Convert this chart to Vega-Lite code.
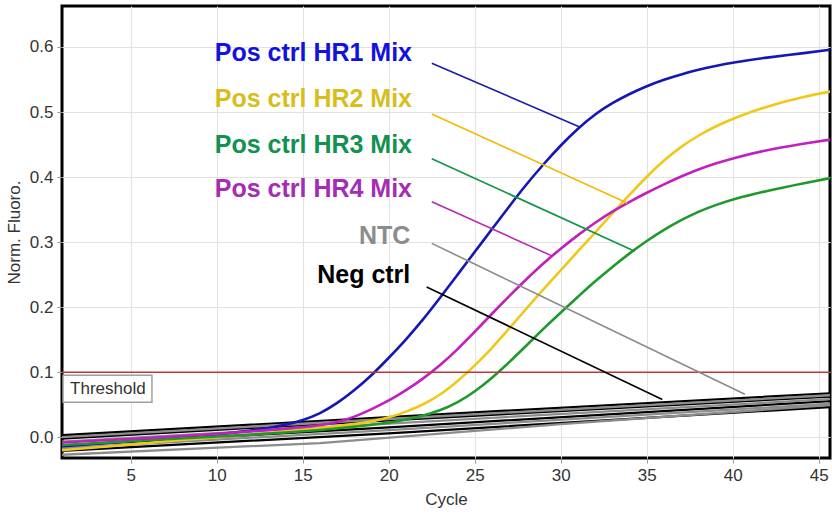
{
  "$schema": "https://vega.github.io/schema/vega-lite/v6.json",
  "width": 768,
  "height": 452,
  "autosize": {"type": "none"},
  "padding": {"left": 62, "top": 6, "right": 2, "bottom": 57},
  "background": "white",
  "config": {
    "font": "Liberation Sans",
    "view": {"stroke": "#000000", "strokeWidth": 3},
    "axis": {"gridColor": "#e2e2e2", "gridWidth": 1, "tickColor": "#999999", "tickSize": 5, "domain": false, "labelColor": "#333333", "titleColor": "#333333", "labelFontSize": 17, "titleFontSize": 17, "titleFontWeight": "normal"}
  },
  "resolve": {"scale": {"color": "independent"}},
  "datasets": {
    "curves": [
      {"s": "HR1", "c": 1, "v": -0.014}, {"s": "HR1", "c": 4, "v": -0.008}, {"s": "HR1", "c": 7, "v": -0.002}, {"s": "HR1", "c": 10, "v": 0.004}, {"s": "HR1", "c": 12, "v": 0.01}, {"s": "HR1", "c": 13, "v": 0.014}, {"s": "HR1", "c": 14, "v": 0.019}, {"s": "HR1", "c": 15, "v": 0.026}, {"s": "HR1", "c": 16, "v": 0.036}, {"s": "HR1", "c": 17, "v": 0.052}, {"s": "HR1", "c": 18, "v": 0.072}, {"s": "HR1", "c": 19, "v": 0.095}, {"s": "HR1", "c": 20, "v": 0.122}, {"s": "HR1", "c": 21, "v": 0.15}, {"s": "HR1", "c": 22, "v": 0.181}, {"s": "HR1", "c": 23, "v": 0.215}, {"s": "HR1", "c": 24, "v": 0.25}, {"s": "HR1", "c": 25, "v": 0.285}, {"s": "HR1", "c": 26, "v": 0.32}, {"s": "HR1", "c": 27, "v": 0.355}, {"s": "HR1", "c": 28, "v": 0.389}, {"s": "HR1", "c": 29, "v": 0.42}, {"s": "HR1", "c": 30, "v": 0.449}, {"s": "HR1", "c": 31, "v": 0.475}, {"s": "HR1", "c": 32, "v": 0.497}, {"s": "HR1", "c": 33, "v": 0.514}, {"s": "HR1", "c": 34, "v": 0.528}, {"s": "HR1", "c": 35, "v": 0.54}, {"s": "HR1", "c": 36, "v": 0.55}, {"s": "HR1", "c": 37, "v": 0.558}, {"s": "HR1", "c": 38, "v": 0.565}, {"s": "HR1", "c": 39, "v": 0.571}, {"s": "HR1", "c": 40, "v": 0.576}, {"s": "HR1", "c": 42, "v": 0.584}, {"s": "HR1", "c": 44, "v": 0.59}, {"s": "HR1", "c": 46, "v": 0.597},

      {"s": "HR2", "c": 1, "v": -0.02}, {"s": "HR2", "c": 4, "v": -0.014}, {"s": "HR2", "c": 7, "v": -0.006}, {"s": "HR2", "c": 10, "v": 0.0}, {"s": "HR2", "c": 12, "v": 0.004}, {"s": "HR2", "c": 14, "v": 0.009}, {"s": "HR2", "c": 16, "v": 0.014}, {"s": "HR2", "c": 18, "v": 0.02}, {"s": "HR2", "c": 19, "v": 0.024}, {"s": "HR2", "c": 20, "v": 0.03}, {"s": "HR2", "c": 21, "v": 0.039}, {"s": "HR2", "c": 22, "v": 0.05}, {"s": "HR2", "c": 23, "v": 0.065}, {"s": "HR2", "c": 24, "v": 0.086}, {"s": "HR2", "c": 25, "v": 0.11}, {"s": "HR2", "c": 26, "v": 0.137}, {"s": "HR2", "c": 27, "v": 0.167}, {"s": "HR2", "c": 28, "v": 0.198}, {"s": "HR2", "c": 29, "v": 0.228}, {"s": "HR2", "c": 30, "v": 0.257}, {"s": "HR2", "c": 31, "v": 0.286}, {"s": "HR2", "c": 32, "v": 0.315}, {"s": "HR2", "c": 33, "v": 0.344}, {"s": "HR2", "c": 34, "v": 0.373}, {"s": "HR2", "c": 35, "v": 0.401}, {"s": "HR2", "c": 36, "v": 0.426}, {"s": "HR2", "c": 37, "v": 0.447}, {"s": "HR2", "c": 38, "v": 0.464}, {"s": "HR2", "c": 39, "v": 0.478}, {"s": "HR2", "c": 40, "v": 0.49}, {"s": "HR2", "c": 42, "v": 0.509}, {"s": "HR2", "c": 44, "v": 0.523}, {"s": "HR2", "c": 46, "v": 0.533},

      {"s": "HR3", "c": 1, "v": -0.012}, {"s": "HR3", "c": 4, "v": -0.008}, {"s": "HR3", "c": 7, "v": -0.003}, {"s": "HR3", "c": 10, "v": 0.001}, {"s": "HR3", "c": 12, "v": 0.004}, {"s": "HR3", "c": 14, "v": 0.007}, {"s": "HR3", "c": 16, "v": 0.011}, {"s": "HR3", "c": 18, "v": 0.016}, {"s": "HR3", "c": 20, "v": 0.022}, {"s": "HR3", "c": 21, "v": 0.027}, {"s": "HR3", "c": 22, "v": 0.033}, {"s": "HR3", "c": 23, "v": 0.041}, {"s": "HR3", "c": 24, "v": 0.053}, {"s": "HR3", "c": 25, "v": 0.07}, {"s": "HR3", "c": 26, "v": 0.091}, {"s": "HR3", "c": 27, "v": 0.115}, {"s": "HR3", "c": 28, "v": 0.141}, {"s": "HR3", "c": 29, "v": 0.167}, {"s": "HR3", "c": 30, "v": 0.192}, {"s": "HR3", "c": 31, "v": 0.216}, {"s": "HR3", "c": 32, "v": 0.24}, {"s": "HR3", "c": 33, "v": 0.262}, {"s": "HR3", "c": 34, "v": 0.283}, {"s": "HR3", "c": 35, "v": 0.302}, {"s": "HR3", "c": 36, "v": 0.319}, {"s": "HR3", "c": 37, "v": 0.334}, {"s": "HR3", "c": 38, "v": 0.347}, {"s": "HR3", "c": 39, "v": 0.357}, {"s": "HR3", "c": 40, "v": 0.366}, {"s": "HR3", "c": 42, "v": 0.379}, {"s": "HR3", "c": 44, "v": 0.39}, {"s": "HR3", "c": 46, "v": 0.4},

      {"s": "HR4", "c": 1, "v": -0.008}, {"s": "HR4", "c": 4, "v": -0.004}, {"s": "HR4", "c": 7, "v": 0.0}, {"s": "HR4", "c": 10, "v": 0.005}, {"s": "HR4", "c": 12, "v": 0.009}, {"s": "HR4", "c": 14, "v": 0.013}, {"s": "HR4", "c": 16, "v": 0.018}, {"s": "HR4", "c": 17, "v": 0.023}, {"s": "HR4", "c": 18, "v": 0.031}, {"s": "HR4", "c": 19, "v": 0.043}, {"s": "HR4", "c": 20, "v": 0.056}, {"s": "HR4", "c": 21, "v": 0.072}, {"s": "HR4", "c": 22, "v": 0.09}, {"s": "HR4", "c": 23, "v": 0.111}, {"s": "HR4", "c": 24, "v": 0.135}, {"s": "HR4", "c": 25, "v": 0.162}, {"s": "HR4", "c": 26, "v": 0.19}, {"s": "HR4", "c": 27, "v": 0.217}, {"s": "HR4", "c": 28, "v": 0.243}, {"s": "HR4", "c": 29, "v": 0.268}, {"s": "HR4", "c": 30, "v": 0.29}, {"s": "HR4", "c": 31, "v": 0.311}, {"s": "HR4", "c": 32, "v": 0.33}, {"s": "HR4", "c": 33, "v": 0.347}, {"s": "HR4", "c": 34, "v": 0.362}, {"s": "HR4", "c": 35, "v": 0.376}, {"s": "HR4", "c": 36, "v": 0.389}, {"s": "HR4", "c": 37, "v": 0.401}, {"s": "HR4", "c": 38, "v": 0.412}, {"s": "HR4", "c": 39, "v": 0.421}, {"s": "HR4", "c": 40, "v": 0.429}, {"s": "HR4", "c": 42, "v": 0.442}, {"s": "HR4", "c": 44, "v": 0.451}, {"s": "HR4", "c": 46, "v": 0.459}
    ],
    "baselines": [
      {"s": "Neg ctrl", "r": "N1", "c": 1, "v": 0.003}, {"s": "Neg ctrl", "r": "N1", "c": 20, "v": 0.031}, {"s": "Neg ctrl", "r": "N1", "c": 46, "v": 0.068},
      {"s": "Neg ctrl", "r": "N2", "c": 1, "v": -0.002}, {"s": "Neg ctrl", "r": "N2", "c": 20, "v": 0.026}, {"s": "Neg ctrl", "r": "N2", "c": 46, "v": 0.063},
      {"s": "Neg ctrl", "r": "N3", "c": 1, "v": -0.013}, {"s": "Neg ctrl", "r": "N3", "c": 20, "v": 0.015}, {"s": "Neg ctrl", "r": "N3", "c": 46, "v": 0.056},
      {"s": "Neg ctrl", "r": "N4", "c": 1, "v": -0.021}, {"s": "Neg ctrl", "r": "N4", "c": 20, "v": 0.006}, {"s": "Neg ctrl", "r": "N4", "c": 46, "v": 0.047},
      {"s": "NTC", "r": "T1", "c": 1, "v": 0.0}, {"s": "NTC", "r": "T1", "c": 20, "v": 0.028}, {"s": "NTC", "r": "T1", "c": 46, "v": 0.065},
      {"s": "NTC", "r": "T2", "c": 1, "v": -0.007}, {"s": "NTC", "r": "T2", "c": 20, "v": 0.021}, {"s": "NTC", "r": "T2", "c": 46, "v": 0.059},
      {"s": "NTC", "r": "T3", "c": 1, "v": -0.017}, {"s": "NTC", "r": "T3", "c": 20, "v": 0.011}, {"s": "NTC", "r": "T3", "c": 46, "v": 0.052},
      {"s": "NTC", "r": "T4", "c": 1, "v": -0.027}, {"s": "NTC", "r": "T4", "c": 16, "v": -0.009}, {"s": "NTC", "r": "T4", "c": 30, "v": 0.02}, {"s": "NTC", "r": "T4", "c": 46, "v": 0.05}
    ],
    "leaders": [
      {"s": "HR1", "c1": 22.5, "v1": 0.575, "c2": 31.1, "v2": 0.477},
      {"s": "HR2", "c1": 22.5, "v1": 0.497, "c2": 33.85, "v2": 0.36},
      {"s": "HR3", "c1": 22.5, "v1": 0.428, "c2": 34.3, "v2": 0.286},
      {"s": "HR4", "c1": 22.5, "v1": 0.362, "c2": 29.55, "v2": 0.278},
      {"s": "NTC", "c1": 22.5, "v1": 0.298, "c2": 40.7, "v2": 0.066},
      {"s": "Neg ctrl", "c1": 22.2, "v1": 0.231, "c2": 35.9, "v2": 0.058}
    ],
    "labels": [
      {"s": "HR1", "text": "Pos ctrl HR1 Mix", "c": 21.35, "v": 0.591},
      {"s": "HR2", "text": "Pos ctrl HR2 Mix", "c": 21.35, "v": 0.52},
      {"s": "HR3", "text": "Pos ctrl HR3 Mix", "c": 21.35, "v": 0.449},
      {"s": "HR4", "text": "Pos ctrl HR4 Mix", "c": 21.35, "v": 0.382},
      {"s": "NTC", "text": "NTC", "c": 21.25, "v": 0.309},
      {"s": "Neg ctrl", "text": "Neg ctrl", "c": 21.25, "v": 0.249}
    ],
    "threshold": [
      {"label": "Threshold", "value": 0.1, "c1": 1.06, "c2": 6.23, "v1": 0.0954, "v2": 0.0538, "tc": 1.47, "tv": 0.0745}
    ]
  },
  "layer": [
    {
      "data": {"name": "baselines"},
      "mark": {"type": "line", "strokeWidth": 2.3, "clip": true},
      "encoding": {
        "x": {"field": "c", "type": "quantitative", "scale": {"domain": [1, 45.65], "nice": false, "zero": false},
              "axis": {"values": [5, 10, 15, 20, 25, 30, 35, 40, 45], "title": "Cycle", "titlePadding": 8, "labelPadding": 4}},
        "y": {"field": "v", "type": "quantitative", "scale": {"domain": [-0.032, 0.663], "nice": false, "zero": false},
              "axis": {"values": [0, 0.1, 0.2, 0.3, 0.4, 0.5, 0.6], "format": ".1f", "title": "Norm. Fluoro.", "titlePadding": 6, "labelPadding": 4}},
        "detail": {"field": "r", "type": "nominal"},
        "color": {"field": "s", "type": "nominal", "legend": null,
                  "scale": {"domain": ["NTC", "Neg ctrl"], "range": ["#8c8c8c", "#000000"]}}
      }
    },
    {
      "data": {"name": "curves"},
      "mark": {"type": "line", "strokeWidth": 2.6, "interpolate": "basis", "clip": true},
      "encoding": {
        "x": {"field": "c", "type": "quantitative"},
        "y": {"field": "v", "type": "quantitative"},
        "color": {"field": "s", "type": "nominal", "legend": null,
                  "scale": {"domain": ["HR1", "HR2", "HR3", "HR4"], "range": ["#1616b4", "#f0c81a", "#1f9a2a", "#c21fbf"]}}
      }
    },
    {
      "data": {"name": "threshold"},
      "mark": {"type": "rule", "color": "#b83a3a", "strokeWidth": 1.5},
      "encoding": {"y": {"field": "value", "type": "quantitative"}}
    },
    {
      "data": {"name": "threshold"},
      "mark": {"type": "rect", "fill": "white", "stroke": "#a0a0a0", "strokeWidth": 1.5},
      "encoding": {
        "x": {"field": "c1", "type": "quantitative"},
        "x2": {"field": "c2"},
        "y": {"field": "v1", "type": "quantitative"},
        "y2": {"field": "v2"}
      }
    },
    {
      "data": {"name": "threshold"},
      "mark": {"type": "text", "align": "left", "baseline": "middle", "fontSize": 17, "color": "#333333"},
      "encoding": {
        "x": {"field": "tc", "type": "quantitative"},
        "y": {"field": "tv", "type": "quantitative"},
        "text": {"field": "label"}
      }
    },
    {
      "data": {"name": "leaders"},
      "mark": {"type": "rule", "strokeWidth": 1.6},
      "encoding": {
        "x": {"field": "c1", "type": "quantitative"},
        "y": {"field": "v1", "type": "quantitative"},
        "x2": {"field": "c2"},
        "y2": {"field": "v2"},
        "color": {"field": "s", "type": "nominal", "legend": null,
                  "scale": {"domain": ["HR1", "HR2", "HR3", "HR4", "NTC", "Neg ctrl"], "range": ["#1c1ca8", "#f5b800", "#119448", "#b52bb0", "#8a8a8a", "#000000"]}}
      }
    },
    {
      "data": {"name": "labels"},
      "mark": {"type": "text", "align": "right", "baseline": "middle", "fontSize": 25, "fontWeight": "bold"},
      "encoding": {
        "x": {"field": "c", "type": "quantitative"},
        "y": {"field": "v", "type": "quantitative"},
        "text": {"field": "text"},
        "color": {"field": "s", "type": "nominal", "legend": null,
                  "scale": {"domain": ["HR1", "HR2", "HR3", "HR4", "NTC", "Neg ctrl"], "range": ["#1212e0", "#d8be1c", "#129150", "#a52db5", "#8c8c8c", "#000000"]}}
      }
    }
  ]
}
